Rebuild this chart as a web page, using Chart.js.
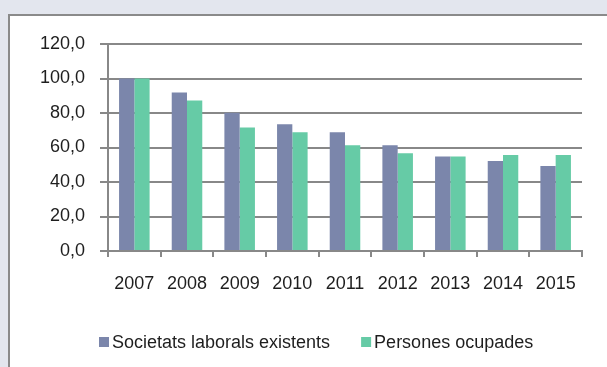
<!DOCTYPE html>
<html>
<head>
<meta charset="utf-8">
<script src="https://cdn.jsdelivr.net/npm/chart.js@4"></script>
<style>
  html, body { margin: 0; padding: 0; background: #e3e6ee; width: 607px; height: 367px; overflow: hidden; }
  #box { position: absolute; left: 8px; top: 14px; width: 640px; height: 400px; background: #fff;
         border-top: 2px solid #8a8a8a; border-left: 2px solid #8a8a8a; }
  #wrap { position: absolute; left: 0; top: 0; width: 607px; height: 367px; }
</style>
</head>
<body>
<div id="box"></div>
<div id="wrap"><canvas id="c" width="607" height="367"></canvas></div>
<script>
const categories = ['2007', '2008', '2009', '2010', '2011', '2012', '2013', '2014', '2015'];
const seriesNames = ['Societats laborals existents', 'Persones ocupades'];
const societats = [100, 91.9, 80.2, 73.5, 68.9, 61.3, 54.8, 52.2, 49.3];
const persones = [100, 87.2, 71.6, 68.9, 61.3, 56.7, 54.8, 55.7, 55.7];
const yTicks = [0, 20, 40, 60, 80, 100, 120];
const colors = ['#7b86ab', '#66cba6'];

const FONT = "'Liberation Sans', Arial, sans-serif";
const TEXT = '#1e1e1e';
const GRID = '#888888';

const legendPlugin = {
  id: 'customLegend',
  afterDraw(chart) {
    const ctx = chart.ctx;
    ctx.save();
    ctx.font = '18px ' + FONT;
    ctx.textBaseline = 'middle';
    ctx.textAlign = 'left';
    let x = 99;
    const yc = 342;
    chart.data.datasets.forEach((ds, i) => {
      ctx.fillStyle = ds.backgroundColor;
      ctx.fillRect(x, yc - 5, 10, 10);
      ctx.fillStyle = TEXT;
      ctx.fillText(ds.label, x + 13, yc + 1);
      x += 13 + ctx.measureText(ds.label).width + 31;
    });
    ctx.restore();
  }
};

new Chart(document.getElementById('c'), {
  type: 'bar',
  data: {
    labels: categories,
    datasets: [
      { label: seriesNames[0], data: societats, backgroundColor: colors[0], borderWidth: 0 },
      { label: seriesNames[1], data: persones, backgroundColor: colors[1], borderWidth: 0 }
    ]
  },
  options: {
    responsive: false,
    animation: false,
    devicePixelRatio: 1,
    layout: { padding: { top: 44, right: 25, left: 0, bottom: 0 } },
    datasets: { bar: { categoryPercentage: 0.58, barPercentage: 1.0 } },
    plugins: { legend: { display: false }, tooltip: { enabled: false } },
    scales: {
      x: {
        afterFit(s) { s.height = 116; },
        grid: { offset: true, drawOnChartArea: false, drawTicks: true, tickLength: 6, color: GRID, lineWidth: 2 },
        border: { display: true, color: GRID, width: 2 },
        ticks: { font: { family: FONT, size: 18 }, color: TEXT, padding: 16, maxRotation: 0, autoSkip: false }
      },
      y: {
        min: 0, max: 120,
        afterFit(s) { s.width = 108; },
        afterBuildTicks(s) { s.ticks = yTicks.map(v => ({ value: v })); },
        grid: { color: GRID, lineWidth: 2, drawTicks: true, tickLength: 8 },
        border: { display: true, color: GRID, width: 2 },
        ticks: {
          font: { family: FONT, size: 18 }, color: TEXT, padding: 15,
          callback: v => v.toFixed(1).replace('.', ',')
        }
      }
    }
  },
  plugins: [legendPlugin]
});
</script>
</body>
</html>
